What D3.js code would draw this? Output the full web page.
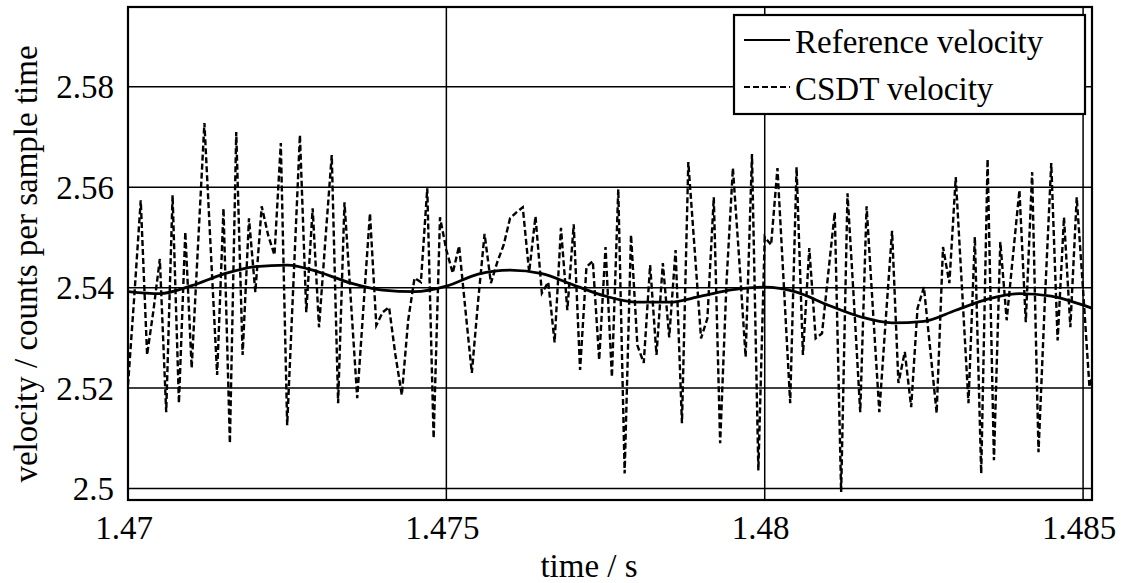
<!DOCTYPE html>
<html>
<head>
<meta charset="utf-8">
<script src="https://cdn.jsdelivr.net/npm/d3@7"></script>
<style>
  body { margin: 0; background: #fff; }
</style>
</head>
<body>
<svg id="chart"></svg>
<script>
const width = 1121;
const height = 583;
const serif = "Liberation Serif";

// --- Data ---
const xTicks = [1.47, 1.475, 1.48, 1.485];
const yTicks = [2.5, 2.52, 2.54, 2.56, 2.58];
const xTickLabels = ["1.47", "1.475", "1.48", "1.485"];
const yTickLabels = ["2.5", "2.52", "2.54", "2.56", "2.58"];

// CSDT velocity, one value per sample (0.1 ms) starting at 1.47 s
const csdtStart = 1.47;
const csdtStep = 0.0001;
const csdtValues = [
  2.5206, 2.5385, 2.5574, 2.5266, 2.5355, 2.5457, 2.5152, 2.5584, 2.5170, 2.5511,
  2.5240, 2.5485, 2.5728, 2.5475, 2.5226, 2.5558, 2.5090, 2.5710, 2.5266, 2.5538,
  2.5391, 2.5562, 2.5505, 2.5465, 2.5688, 2.5126, 2.5415, 2.5704, 2.5351, 2.5558,
  2.5321, 2.5495, 2.5664, 2.5170, 2.5570, 2.5375, 2.5180, 2.5365, 2.5548, 2.5325,
  2.5351, 2.5361, 2.5266, 2.5186, 2.5335, 2.5419, 2.5411, 2.5598, 2.5100, 2.5540,
  2.5475, 2.5429, 2.5483, 2.5355, 2.5230, 2.5375, 2.5507, 2.5409, 2.5451, 2.5485,
  2.5538, 2.5550, 2.5560, 2.5431, 2.5542, 2.5389, 2.5411, 2.5291, 2.5519, 2.5355,
  2.5526, 2.5236, 2.5441, 2.5453, 2.5256, 2.5481, 2.5222, 2.5596, 2.5030, 2.5505,
  2.5285, 2.5250, 2.5445, 2.5266, 2.5449, 2.5301, 2.5475, 2.5130, 2.5650, 2.5475,
  2.5299, 2.5339, 2.5580, 2.5090, 2.5411, 2.5638, 2.5455, 2.5262, 2.5666, 2.5036,
  2.5501, 2.5485, 2.5638, 2.5405, 2.5170, 2.5640, 2.5266, 2.5479, 2.5299, 2.5309,
  2.5431, 2.5550, 2.4993, 2.5588, 2.5375, 2.5152, 2.5562, 2.5355, 2.5152, 2.5335,
  2.5513, 2.5210, 2.5272, 2.5162, 2.5359, 2.5401, 2.5276, 2.5150, 2.5481, 2.5409,
  2.5620, 2.5395, 2.5170, 2.5501, 2.5030, 2.5656, 2.5056, 2.5491, 2.5335, 2.5465,
  2.5594, 2.5331, 2.5630, 2.5072, 2.5375, 2.5648, 2.5295, 2.5540, 2.5321, 2.5580,
  2.5395, 2.5202, 2.5256
];

// Reference velocity, read every 0.5 ms starting at 1.47 s
const refStart = 1.47;
const refStep = 0.0005;
const refValues = [
  2.5392, 2.5388, 2.5404, 2.5427, 2.5442, 2.5445, 2.5431, 2.5409, 2.5395, 2.5392,
  2.5403, 2.5427, 2.5435, 2.5428, 2.5405, 2.5383, 2.5371, 2.5371, 2.5383, 2.5396,
  2.5401, 2.5391, 2.5365, 2.5342, 2.5330, 2.5333, 2.5355, 2.5377, 2.5388, 2.5383,
  2.5365, 2.5343
];

const legendLabels = ["Reference velocity", "CSDT velocity"];

const csdt = csdtValues.map((v, i) => ({ t: csdtStart + i * csdtStep, v }));
const reference = refValues.map((v, i) => ({ t: refStart + i * refStep, v }));

// --- Layout ---
const margin = { top: 7, right: 29, bottom: 83, left: 128 };
const innerW = width - margin.left - margin.right;
const innerH = height - margin.top - margin.bottom;

const svg = d3.select("#chart")
  .attr("width", width)
  .attr("height", height)
  .attr("viewBox", [0, 0, width, height])
  .style("display", "block")
  .style("font-family", serif);

const x = d3.scaleLinear()
  .domain([1.47, 1.48514])
  .range([margin.left, margin.left + innerW]);

const y = d3.scaleLinear()
  .domain([2.4977, 2.5959])
  .range([margin.top + innerH, margin.top]);

svg.append("defs").append("clipPath")
  .attr("id", "plot-clip")
  .append("rect")
  .attr("x", margin.left)
  .attr("y", margin.top)
  .attr("width", innerW)
  .attr("height", innerH);

// --- Grid ---
const gGrid = svg.append("g");

gGrid.selectAll(".hgrid")
  .data(yTicks)
  .join("line")
  .attr("x1", margin.left)
  .attr("x2", margin.left + innerW)
  .attr("y1", d => y(d))
  .attr("y2", d => y(d))
  .attr("stroke", "#000")
  .attr("stroke-width", 1.5);

gGrid.selectAll(".vgrid")
  .data(xTicks.slice(1))
  .join("line")
  .attr("x1", d => x(d))
  .attr("x2", d => x(d))
  .attr("y1", margin.top)
  .attr("y2", margin.top + innerH)
  .attr("stroke", "#000")
  .attr("stroke-width", 1.5);

// --- Lines ---
const gLines = svg.append("g").attr("clip-path", "url(#plot-clip)");

const line = d3.line()
  .x(d => x(d.t))
  .y(d => y(d.v));

gLines.append("path")
  .datum(csdt)
  .attr("d", line)
  .attr("fill", "none")
  .attr("stroke", "#000")
  .attr("stroke-width", 2.4)
  .attr("stroke-dasharray", "6,3");

gLines.append("path")
  .datum(reference)
  .attr("d", line.curve(d3.curveMonotoneX))
  .attr("fill", "none")
  .attr("stroke", "#000")
  .attr("stroke-width", 2.8);

// --- Frame ---
svg.append("rect")
  .attr("x", margin.left)
  .attr("y", margin.top)
  .attr("width", innerW)
  .attr("height", innerH)
  .attr("fill", "none")
  .attr("stroke", "#000")
  .attr("stroke-width", 2.2);

// --- Tick labels ---
svg.append("g")
  .selectAll("text")
  .data(yTicks)
  .join("text")
  .attr("x", 114)
  .attr("y", d => y(d))
  .attr("dy", "0.35em")
  .attr("text-anchor", "end")
  .style("font-family", serif)
  .attr("font-size", 33)
  .text((d, i) => yTickLabels[i]);

svg.append("g")
  .selectAll("text")
  .data(xTicks)
  .join("text")
  .attr("x", d => x(d) - 4)
  .attr("y", 539)
  .attr("text-anchor", "middle")
  .style("font-family", serif)
  .attr("font-size", 33)
  .text((d, i) => xTickLabels[i]);

// --- Axis titles ---
svg.append("text")
  .attr("x", 589)
  .attr("y", 577)
  .attr("text-anchor", "middle")
  .style("font-family", serif)
  .attr("font-size", 33)
  .text("time / s");

svg.append("text")
  .attr("transform", "translate(37,264) rotate(-90)")
  .attr("text-anchor", "middle")
  .style("font-family", serif)
  .attr("font-size", 33)
  .text("velocity / counts per sample time");

// --- Legend ---
const gLegend = svg.append("g");

gLegend.append("rect")
  .attr("x", 734)
  .attr("y", 15)
  .attr("width", 351)
  .attr("height", 99)
  .attr("fill", "#fff")
  .attr("stroke", "#000")
  .attr("stroke-width", 2.2);

const legendRows = gLegend.selectAll(".row")
  .data(legendLabels)
  .join("g")
  .attr("transform", (d, i) => `translate(744, ${40 + i * 47})`);

legendRows.append("line")
  .attr("x1", 0)
  .attr("x2", 46)
  .attr("stroke", "#000")
  .attr("stroke-width", 2.2)
  .attr("stroke-dasharray", (d, i) => i === 1 ? "6,3" : null);

legendRows.append("text")
  .attr("x", 51)
  .attr("y", 13)
  .style("font-family", serif)
  .attr("font-size", 33)
  .text(d => d);
</script>
</body>
</html>
